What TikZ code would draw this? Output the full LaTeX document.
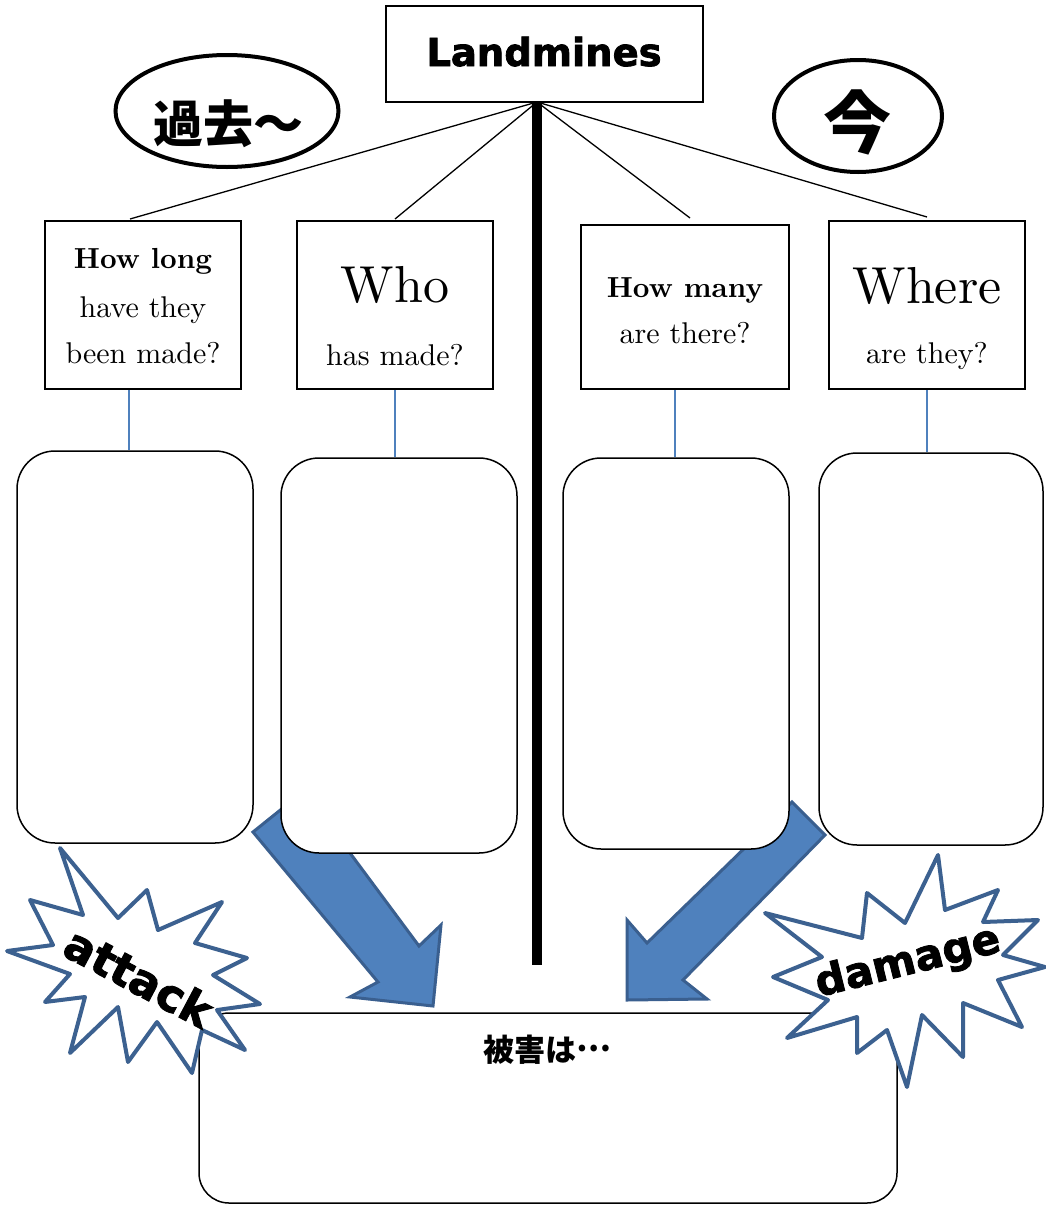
\documentclass[tikz,border=0pt]{standalone}
\usepackage{fontspec}
\setmainfont{lmroman10-regular.otf}[BoldFont=lmroman10-bold.otf]
\usetikzlibrary{calc,shapes.geometric}
\newfontfamily\cjk{Noto Sans CJK JP}
\newfontfamily\heavy{DejaVu Sans}[BoldFeatures={FakeBold=2}]
\definecolor{arrowfill}{HTML}{4F81BD}
\definecolor{arrowline}{HTML}{3A5F8F}
\definecolor{starline}{HTML}{3C6190}
\tikzset{
  sqbox/.style={draw, line width=2pt, fill=white, inner sep=0pt},
  rbox/.style={draw, line width=1.5pt, fill=white, rounded corners=38pt, inner sep=0pt},
  oval/.style={draw, line width=4pt, ellipse, inner sep=0pt},
  spoke/.style={line width=1.3pt},
  conn/.style={draw=arrowfill, line width=1.4pt},
  bigarrow/.style={fill=arrowfill, draw=arrowline, line width=3pt, line join=miter},
  burst/.style={fill=white, draw=starline, line width=4pt, line join=round},
  head/.style={anchor=base, inner sep=0pt, font=\bfseries\fontsize{29}{30}\selectfont},
  sub/.style={anchor=base, inner sep=0pt, font=\fontsize{30}{32}\selectfont},
  big/.style={anchor=base, inner sep=0pt, font=\fontsize{52}{55}\selectfont},
  heavytext/.style={inner sep=0pt, font=\heavy\bfseries\fontsize{#1}{#1}\selectfont},
  cjktext/.style={inner sep=0pt, font=\cjk\bfseries\fontsize{#1}{#1}\selectfont},
}
\begin{document}
\begin{tikzpicture}[x=1pt,y=-1pt]
\useasboundingbox (0,0) rectangle (1045,1205);
\fill[white] (0,0) rectangle (1045,1205);

% title box
\node[sqbox, minimum width=317pt, minimum height=96pt] (land) at (544.5,54) {};
\node[heavytext=38.5, anchor=base] (landt) at (544,66) {Landmines};
\coordinate (apex) at (537,102);

% ovals
\node[oval, minimum width=223pt, minimum height=112pt] (past) at (227,111) {};
\node[cjktext=50] (pastt) at (228,124) {過去～};
\node[oval, minimum width=168pt, minimum height=112pt] (now) at (858,116) {};
\node[cjktext=68] (nowt) at (857,122) {今};

% question boxes
\node[sqbox, minimum width=196pt, minimum height=168pt] (b1) at (143,305) {};
\node[sqbox, minimum width=196pt, minimum height=168pt] (b2) at (395,305) {};
\node[sqbox, minimum width=208pt, minimum height=164pt] (b3) at (685,307) {};
\node[sqbox, minimum width=196pt, minimum height=168pt] (b4) at (927,305) {};

\node[head] (t1a) at (143,268) {How long};
\node[sub] (t1b) at (143,317) {have they};
\node[sub] (t1c) at (143,363) {been made?};
\node[big] (t2a) at (395,302) {Who};
\node[sub] (t2b) at (395,365) {has made?};
\node[head] (t3a) at (685,297) {How many};
\node[sub] (t3b) at (685,343) {are there?};
\node[big] (t4a) at (927,303) {Where};
\node[sub] (t4b) at (927,363) {are they?};

% spokes
\draw[spoke] (apex) -- ($(b1.north)+(-13,-1)$);
\draw[spoke] (apex) -- ($(b2.north)+(0,-1)$);
\draw[spoke] (apex) -- ($(b3.north)+(5,-6)$);
\draw[spoke] (apex) -- ($(b4.north)+(0,-3)$);
\draw[line width=10pt] (apex) -- (537,965) coordinate (stemend);

% big arrows (behind answer boxes)
\draw[bigarrow] (304,791) -- (253,832) -- (378,982) -- (350,997) -- (433,1006) -- (441,925) -- (419,946) -- cycle;
\draw[bigarrow] (792,802) -- (825,835) -- (683,980) -- (707,999) -- (627,1000) -- (627,920) -- (647,943) -- cycle;

% answer boxes
\node[rbox, minimum width=236pt, minimum height=392pt] (r1) at (135,647) {};
\node[rbox, minimum width=236pt, minimum height=395pt] (r2) at (399,655.5) {};
\node[rbox, minimum width=226pt, minimum height=391pt] (r3) at (676,653.5) {};
\node[rbox, minimum width=224pt, minimum height=392pt] (r4) at (931,649) {};

\draw[conn] ($(b1.south)+(-14,0)$) -- ($(r1.north)+(-6,0)$);
\draw[conn] (b2.south) -- ($(r2.north)+(-4,0)$);
\draw[conn] ($(b3.south)+(-10,0)$) -- ($(r3.north)+(-1,0)$);
\draw[conn] (b4.south) -- ($(r4.north)+(-4,0)$);

% bottom box
\node[draw, line width=1.5pt, fill=white, rounded corners=30pt, inner sep=0pt,
      minimum width=698pt, minimum height=190pt] (bottom) at (548,1108) {};
\node[cjktext=31] (bottomt) at (547,1050) {被害は\raisebox{0.33em}{…}};

% bursts
\draw[burst] (60,848) -- (83,915) -- (30,900) -- (53,945) -- (7,951) -- (70,974) -- (45,1002) -- (85,997) -- (70,1053) -- (118,1007) -- (128,1062) -- (157,1022) -- (192,1073) -- (202,1030) -- (245,1050) -- (217,1010) -- (260,1004) -- (213,975) -- (247,958) -- (195,943) -- (222,902) -- (158,930) -- (147,890) -- (118,918) -- cycle;
\node[heavytext=45, rotate=-28] (attack) at (139,977) {attack};

\draw[burst] (938,855) -- (945,910) -- (998,890) -- (983,922) -- (1038,920) -- (1003,955) -- (1045,967) -- (998,980) -- (1022,1027) -- (963,1003) -- (963,1057) -- (922,1015) -- (907,1087) -- (887,1030) -- (857,1053) -- (857,1017) -- (787,1038) -- (828,1000) -- (773,977) -- (822,957) -- (765,913) -- (862,938) -- (867,893) -- (905,923) -- cycle;
\node[heavytext=42, rotate=14] (damage) at (908,963) {damage};
\end{tikzpicture}
\end{document}
